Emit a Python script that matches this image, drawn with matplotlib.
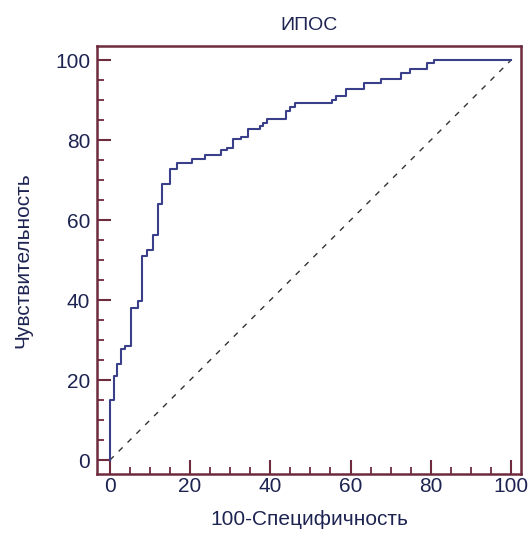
import matplotlib.pyplot as plt
from matplotlib.ticker import MultipleLocator

# ROC points: 100-specificity vs sensitivity
fpr = [0, 0, 1, 1.7, 2.9, 3.7, 5.2, 7, 8, 9.3, 10.8, 11.9, 12.9, 15.1, 16.8,
       20.6, 23.7, 27.6, 29.1, 30.6, 32.6, 34.5, 37.4, 38.2, 39.2, 44, 44.9,
       46.1, 55.3, 56.4, 59, 63.3, 67.7, 72.7, 74.8, 79, 80.9, 100]
tpr = [0, 15, 21, 24, 27.7, 28.5, 38, 39.8, 51, 52.5, 56.2, 64, 69, 72.7, 74.2,
       75.4, 76.4, 77.5, 78, 80.2, 80.7, 82.7, 83.5, 84.4, 85.3, 87.3, 88.2,
       89.2, 90, 91, 92.7, 94.2, 95.4, 96.9, 97.9, 99.2, 100, 100]
diag = [0, 100]

text_col = "#1e2452"
spine_col = "#6e2b3e"

plt.rcParams["font.family"] = ["Liberation Sans", "DejaVu Sans"]

fig = plt.figure(figsize=(5.3, 5.37), dpi=100)
ax = fig.add_axes([0.183, 0.117, 0.8, 0.797])

ax.plot(diag, diag, color="#333333", linestyle=(0, (4, 5)), linewidth=1)
ax.step(fpr, tpr, where="post", color="#3a3f8a", linewidth=1.5)

ax.set_xlim(-3.2, 102.5)
ax.set_ylim(-3.5, 103.5)
ax.xaxis.set_major_locator(MultipleLocator(20))
ax.xaxis.set_minor_locator(MultipleLocator(5))
ax.yaxis.set_major_locator(MultipleLocator(20))
ax.yaxis.set_minor_locator(MultipleLocator(5))
ax.tick_params(which="major", direction="in", length=10, width=1.5,
               color=spine_col, labelcolor=text_col, labelsize=15)
ax.tick_params(axis="x", which="major", pad=2)
ax.tick_params(axis="y", which="major", pad=5)
ax.tick_params(which="minor", direction="in", length=5, width=1.3,
               color=spine_col)

for s in ax.spines.values():
    s.set_color(spine_col)
    s.set_linewidth(1.8)

ax.set_title("ИПОС", color=text_col, fontsize=14, pad=12)
ax.set_xlabel("100-Специфичность", color=text_col, fontsize=15, labelpad=10)
ax.set_ylabel("Чувствительность", color=text_col, fontsize=15, labelpad=16)

plt.savefig("out.png")
